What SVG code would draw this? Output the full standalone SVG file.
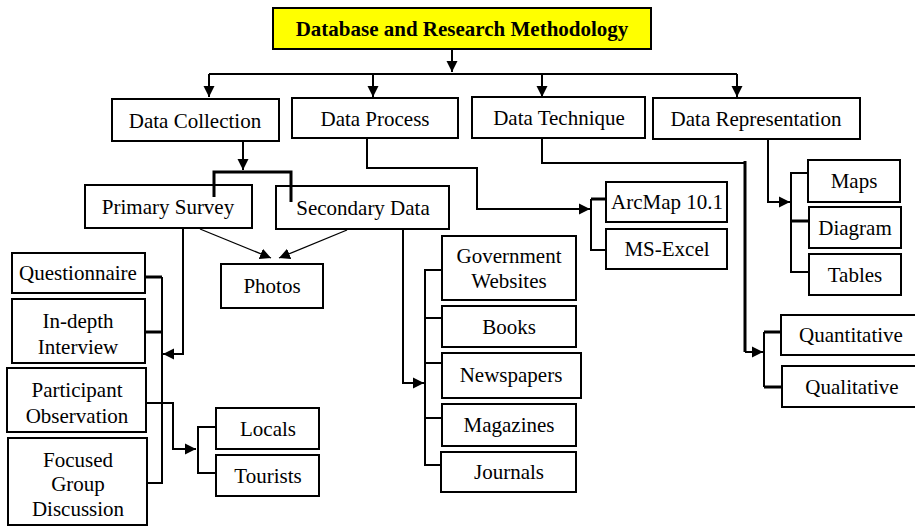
<svg xmlns="http://www.w3.org/2000/svg" width="915" height="526" viewBox="0 0 915 526">
<style>
.box{fill:#fff;stroke:#000;stroke-width:2}
.title{fill:#ffff00;stroke:#000;stroke-width:2}
text{font-family:"Liberation Serif","Times New Roman",serif;font-size:21px;fill:#000;text-anchor:middle}
.b{font-weight:bold}
.ln{fill:none;stroke:#000;stroke-width:2}
.th{fill:none;stroke:#000;stroke-width:3}
.tn{fill:none;stroke:#000;stroke-width:1.3}
</style>
<defs>
<marker id="ah" markerUnits="userSpaceOnUse" markerWidth="12" markerHeight="12" refX="11" refY="6" orient="auto">
<path d="M0,0.5 L11,6 L0,11.5 z" fill="#000"/>
</marker>
</defs>
<g id="title"><rect class="title" x="273" y="8" width="378" height="41"/><text class="b" x="462" y="36">Database and Research Methodology</text></g>
<g id="data-collection"><rect class="box" x="112" y="99" width="167" height="42"/><text x="195" y="128">Data Collection</text></g>
<g id="data-process"><rect class="box" x="292" y="98" width="166" height="40"/><text x="375" y="126">Data Process</text></g>
<g id="data-technique"><rect class="box" x="472" y="97" width="173" height="41"/><text x="559" y="125">Data Technique</text></g>
<g id="data-representation"><rect class="box" x="653" y="98" width="207" height="41"/><text x="756" y="126">Data Representation</text></g>
<g id="primary-survey"><rect class="box" x="85" y="185" width="167" height="43"/><text x="168" y="214">Primary Survey</text></g>
<g id="secondary-data"><rect class="box" x="276" y="186" width="173" height="43"/><text x="363" y="215">Secondary Data</text></g>
<g id="photos"><rect class="box" x="221" y="264" width="102" height="44"/><text x="272" y="293">Photos</text></g>
<g id="questionnaire"><rect class="box" x="12" y="253" width="133" height="40"/><text x="78" y="280">Questionnaire</text></g>
<g id="in-depth"><rect class="box" x="12" y="299" width="133" height="64"/><text x="78" y="328">In-depth</text><text x="78" y="354">Interview</text></g>
<g id="participant"><rect class="box" x="7" y="368" width="139" height="64"/><text x="77" y="397">Participant</text><text x="77" y="423">Observation</text></g>
<g id="focused"><rect class="box" x="8" y="438" width="139" height="87"/><text x="78" y="467">Focused</text><text x="78" y="491">Group</text><text x="78" y="516">Discussion</text></g>
<g id="locals"><rect class="box" x="216" y="408" width="103" height="41"/><text x="268" y="436">Locals</text></g>
<g id="tourists"><rect class="box" x="216" y="455" width="103" height="41"/><text x="268" y="483">Tourists</text></g>
<g id="gov"><rect class="box" x="442" y="236" width="134" height="64"/><text x="509" y="263">Government</text><text x="509" y="288">Websites</text></g>
<g id="books"><rect class="box" x="442" y="306" width="134" height="41"/><text x="509" y="334">Books</text></g>
<g id="newspapers"><rect class="box" x="442" y="353" width="139" height="45"/><text x="511" y="382">Newspapers</text></g>
<g id="magazines"><rect class="box" x="442" y="404" width="134" height="42"/><text x="509" y="432">Magazines</text></g>
<g id="journals"><rect class="box" x="441" y="452" width="135" height="40"/><text x="509" y="479">Journals</text></g>
<g id="arcmap"><rect class="box" x="606" y="182" width="121" height="40"/><text x="667" y="209">ArcMap 10.1</text></g>
<g id="msexcel"><rect class="box" x="606" y="229" width="121" height="40"/><text x="667" y="256">MS-Excel</text></g>
<g id="maps"><rect class="box" x="808" y="160" width="92" height="42"/><text x="854" y="188">Maps</text></g>
<g id="diagram"><rect class="box" x="809" y="207" width="92" height="41"/><text x="855" y="235">Diagram</text></g>
<g id="tables"><rect class="box" x="809" y="254" width="92" height="41"/><text x="855" y="282">Tables</text></g>
<g id="quantitative"><rect class="box" x="781" y="315" width="140" height="40"/><text x="851" y="342">Quantitative</text></g>
<g id="qualitative"><rect class="box" x="782" y="366" width="140" height="41"/><text x="852" y="394">Qualitative</text></g>
<g id="connectors">
<path class="ln" d="M452,50 V72" marker-end="url(#ah)"/>
<path class="ln" d="M209,74 H737"/>
<path class="ln" d="M209,74 V97" marker-end="url(#ah)"/>
<path class="ln" d="M373,74 V97" marker-end="url(#ah)"/>
<path class="ln" d="M542,74 V97" marker-end="url(#ah)"/>
<path class="ln" d="M737,74 V97" marker-end="url(#ah)"/>
<path class="ln" d="M243,142 V170" marker-end="url(#ah)"/>
<path class="th" d="M214,197 V172 H291 V202"/>
<path class="tn" d="M200,229 L271,258" marker-end="url(#ah)"/>
<path class="tn" d="M347,230 L279,258" marker-end="url(#ah)"/>
<path class="ln" d="M183,229 V354 H163" marker-end="url(#ah)"/>
<path class="th" d="M146,277 H162"/>
<path class="th" d="M146,332 H162"/>
<path class="ln" d="M162,277 V483 H148"/>
<path class="ln" d="M147,403 H173 V449 H196" marker-end="url(#ah)"/>
<path class="ln" d="M215,427 H198 V473 H215"/>
<path class="ln" d="M403,230 V383 H424" marker-end="url(#ah)"/>
<path class="ln" d="M441,270 H425 V465 H440"/>
<path class="ln" d="M425,318 H441"/>
<path class="ln" d="M425,363 H441"/>
<path class="ln" d="M425,418 H441"/>
<path class="ln" d="M367,139 V168 H477 V209 H590" marker-end="url(#ah)"/>
<path class="ln" d="M605,250 H591 V199"/>
<path class="th" d="M591,199 H605"/>
<path class="ln" d="M542,139 V163 H745"/>
<path class="th" d="M745,161 V352"/>
<path class="ln" d="M745,352 H763" marker-end="url(#ah)"/>
<path class="ln" d="M764,332 V387"/>
<path class="th" d="M764,332 H780"/>
<path class="th" d="M764,387 H781"/>
<path class="ln" d="M768,140 V202 H790" marker-end="url(#ah)"/>
<path class="ln" d="M807,173 H791 V272 H808"/>
<path class="th" d="M791,221 H808"/>
</g>
</svg>
